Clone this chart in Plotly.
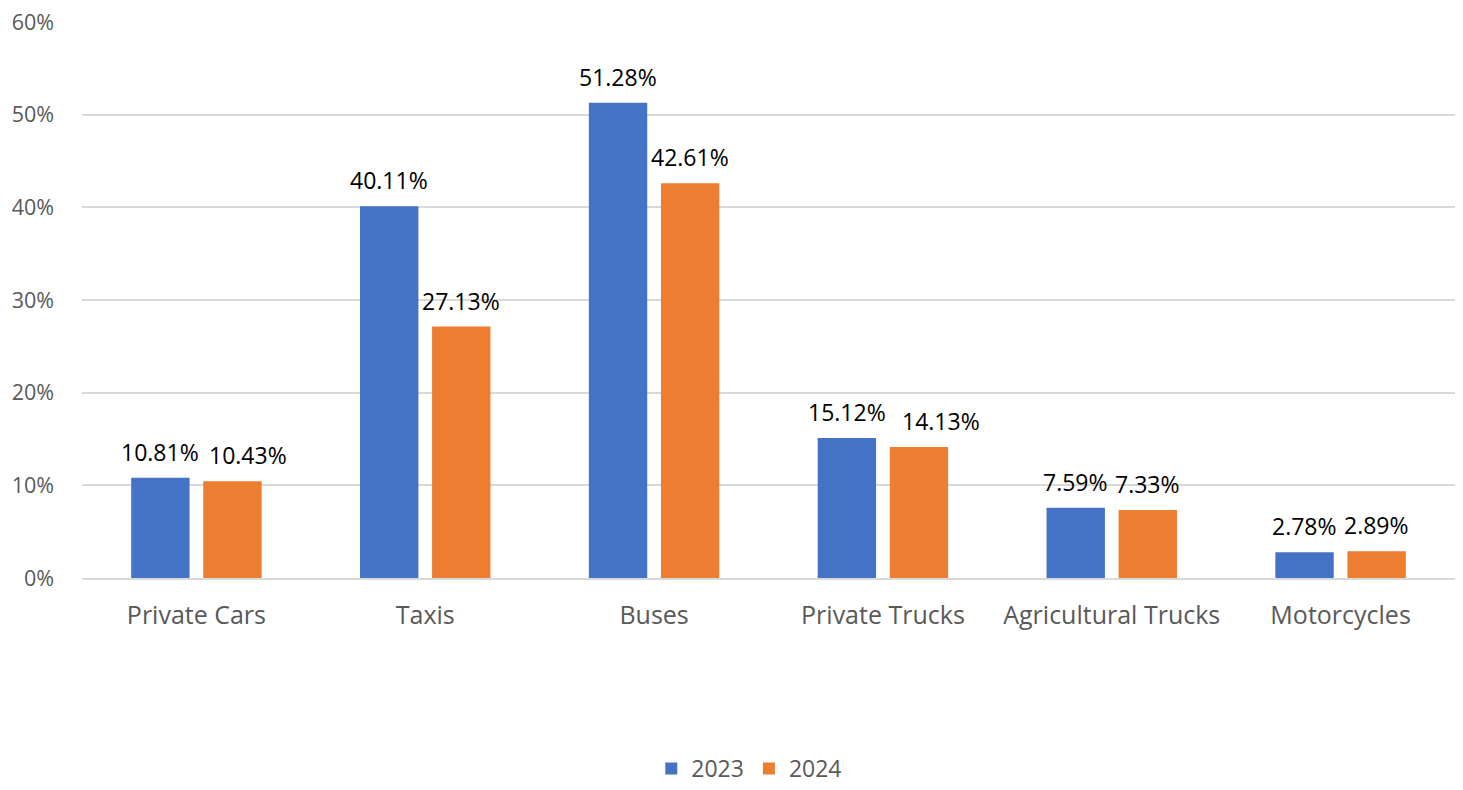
import plotly.graph_objects as go

categories = ["Private Cars", "Taxis", "Buses", "Private Trucks", "Agricultural Trucks", "Motorcycles"]
values_2023 = [10.81, 40.11, 51.28, 15.12, 7.59, 2.78]
values_2024 = [10.43, 27.13, 42.61, 14.13, 7.33, 2.89]
y_ticks = [0, 10, 20, 30, 40, 50, 60]

FONT = "Open Sans, Noto Sans, sans-serif"
series = [("2023", values_2023, "#4472C4"), ("2024", values_2024, "#ED7D31")]

# extra sideways nudge (px) for labels that would collide with their neighbour
label_nudge = {("2024", "Private Cars"): 16, ("2024", "Private Trucks"): 22}

fig = go.Figure()
for name, vals, color in series:
    fig.add_trace(go.Bar(
        x=categories, y=vals, name=name,
        marker=dict(color=color, line=dict(width=0)),
    ))

# value labels above each bar, shifted onto the bar's slot within the group
slot_px = 72
for j, (name, vals, color) in enumerate(series):
    for cat, v in zip(categories, vals):
        fig.add_annotation(
            x=cat, y=v, text=f"{v:.2f}%", showarrow=False,
            xshift=(j - 0.5) * slot_px + label_nudge.get((name, cat), 0),
            yshift=8, yanchor="bottom",
            font=dict(family=FONT, size=23, color="#000000"),
        )

fig.update_layout(
    width=1463, height=790,
    margin=dict(l=82, r=8, t=22, b=212, autoexpand=False),
    barmode="group", bargap=0.37, bargroupgap=0.19,
    plot_bgcolor="white", paper_bgcolor="white",
    font=dict(family=FONT, size=20, color="#595959"),
    legend=dict(orientation="h", x=0.486, xanchor="center",
                yref="container", y=-0.004, yanchor="bottom",
                font=dict(size=23, color="#595959"), traceorder="normal"),
)
fig.update_yaxes(range=[0, 60], tickvals=y_ticks, ticktext=[f"{t}%" for t in y_ticks],
                 showgrid=True, gridcolor="#D9D9D9", gridwidth=1.5,
                 zeroline=False, showline=False, ticklabelstandoff=27, automargin=False,
                 tickfont=dict(size=21.5, color="#595959"))
fig.update_xaxes(showline=True, linecolor="#D9D9D9", linewidth=1.5, showgrid=False,
                 ticklabelstandoff=14, automargin=False,
                 tickfont=dict(size=25, color="#595959"))

fig.write_html("out.html")
